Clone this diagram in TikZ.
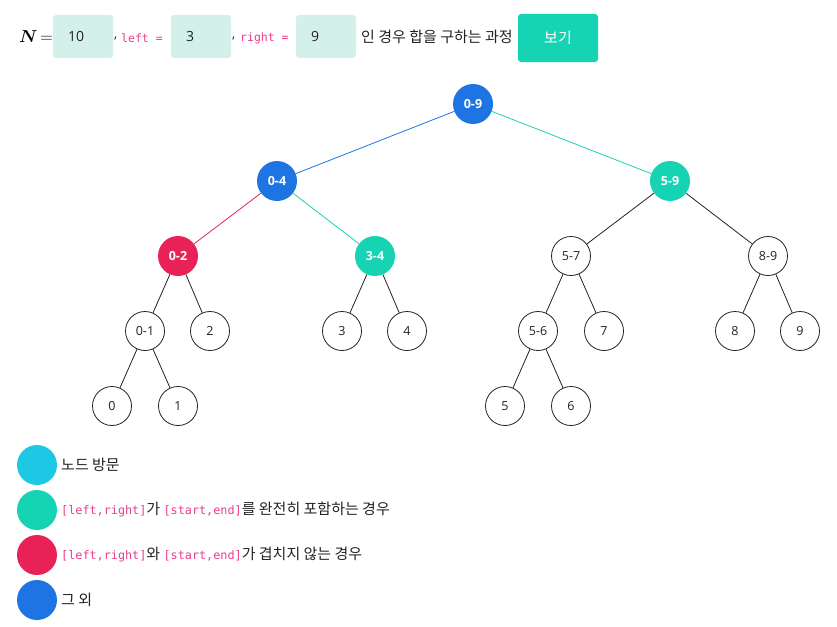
\documentclass[tikz,border=0pt]{standalone}
\usepackage{fontspec}
\setmainfont{Open Sans}
\newfontfamily\kr{Noto Sans CJK KR}
\newfontfamily\mono{DejaVu Sans Mono}
\definecolor{cblue}{HTML}{1E74E2}
\definecolor{cteal}{HTML}{16D3B3}
\definecolor{ccrim}{HTML}{E82257}
\definecolor{ccyan}{HTML}{1CC8E3}
\definecolor{cbox}{HTML}{D3F1EA}
\definecolor{cpink}{HTML}{E83E8C}
\definecolor{ctext}{HTML}{222222}
\newcommand{\boldN}{\mbox{\boldmath$N$}}
\begin{document}
\begin{tikzpicture}[x=1pt,y=-1pt,
  tn/.style={circle,draw=ctext,line width=0.8pt,minimum size=39pt,inner sep=0pt,font=\fontsize{12.5}{14}\selectfont,text=ctext},
  fn/.style={circle,fill=#1,draw=none,minimum size=40pt,inner sep=0pt,font=\fontsize{12.5}{14}\selectfont\bfseries,text=white},
  ln/.style={circle,fill=#1,minimum size=40pt,inner sep=0pt},
  ed/.style={line width=0.8pt,draw=ctext},
  ced/.style={line width=0.8pt,draw=#1},
  ibox/.style={fill=cbox,rounded corners=3pt,minimum width=60pt,minimum height=43pt,inner sep=0pt,font=\fontsize{14}{16}\selectfont,text=ctext,text width=30pt,align=left},
  pk/.style={font=\mono\fontsize{11.5}{13}\selectfont,text=cpink,inner sep=0pt},
  krt/.style={font=\kr\fontsize{15}{17}\selectfont,text=ctext,inner sep=0pt}
]
\useasboundingbox (0,0) rectangle (837,626);
% header
\node[anchor=west,inner sep=0pt,font=\fontsize{16}{18}\selectfont] (N) at (19,37) {\boldN$\,=$};
\node[ibox] (b1) at (83,36.5) {10};
\node[anchor=west,inner sep=0pt,font=\fontsize{13}{15}\selectfont,text=ctext] (c1) at (114,39) {,};
\node[pk,anchor=west] (l1) at (121,38) {left =};
\node[ibox] (b2) at (201,36.5) {3};
\node[anchor=west,inner sep=0pt,font=\fontsize{13}{15}\selectfont,text=ctext] (c2) at (232,39) {,};
\node[pk,anchor=west] (l2) at (240,38) {right =};
\node[ibox] (b3) at (326,36.5) {9};
\node[krt,anchor=west] (t1) at (361,37) {인 경우 합을 구하는 과정};
\node[fill=cteal,rounded corners=3pt,minimum width=80pt,minimum height=48pt,inner sep=0pt,font=\kr\fontsize{15}{17}\selectfont,text=white] (btn) at (558,38) {보기};
% tree
\node[fn=cblue] (n09) at (473,104) {0-9};
\node[fn=cblue] (n04) at (277,181) {0-4};
\node[fn=cteal] (n59) at (670,181) {5-9};
\node[fn=ccrim] (n02) at (178,256) {0-2};
\node[fn=cteal] (n34) at (375,256) {3-4};
\node[tn] (n57) at (571,256) {5-7};
\node[tn] (n89) at (768,256) {8-9};
\node[tn] (n01) at (145,331) {0-1};
\node[tn] (n2) at (210,331) {2};
\node[tn] (n3) at (342,331) {3};
\node[tn] (n4) at (407,331) {4};
\node[tn] (n56) at (538,331) {5-6};
\node[tn] (n7) at (604,331) {7};
\node[tn] (n8) at (735,331) {8};
\node[tn] (n9) at (800,331) {9};
\node[tn] (n0) at (112,406) {0};
\node[tn] (n1) at (178,406) {1};
\node[tn] (n5) at (505,406) {5};
\node[tn] (n6) at (571,406) {6};
\draw[ced=cblue] (n09) -- (n04);
\draw[ced=cteal] (n09) -- (n59);
\draw[ced=ccrim] (n04) -- (n02);
\draw[ced=cteal] (n04) -- (n34);
\draw[ed] (n59) -- (n57);
\draw[ed] (n59) -- (n89);
\draw[ed] (n02) -- (n01);
\draw[ed] (n02) -- (n2);
\draw[ed] (n34) -- (n3);
\draw[ed] (n34) -- (n4);
\draw[ed] (n57) -- (n56);
\draw[ed] (n57) -- (n7);
\draw[ed] (n89) -- (n8);
\draw[ed] (n89) -- (n9);
\draw[ed] (n01) -- (n0);
\draw[ed] (n01) -- (n1);
\draw[ed] (n56) -- (n5);
\draw[ed] (n56) -- (n6);
% legend
\node[ln=ccyan] (g1) at (37,465) {};
\node[ln=cteal] (g2) at (37,510) {};
\node[ln=ccrim] (g3) at (37,555) {};
\node[ln=cblue] (g4) at (37,600) {};
\node[krt,anchor=west] (L1) at (61,465) {노드 방문};
\node[krt,anchor=west] (L2) at (61,510) {{\mono\fontsize{11.8}{13}\selectfont\color{cpink}[left,right]}가 {\mono\fontsize{11.8}{13}\selectfont\color{cpink}[start,end]}를 완전히 포함하는 경우};
\node[krt,anchor=west] (L3) at (61,555) {{\mono\fontsize{11.8}{13}\selectfont\color{cpink}[left,right]}와 {\mono\fontsize{11.8}{13}\selectfont\color{cpink}[start,end]}가 겹치지 않는 경우};
\node[krt,anchor=west] (L4) at (61,600) {그 외};
\end{tikzpicture}
\end{document}
